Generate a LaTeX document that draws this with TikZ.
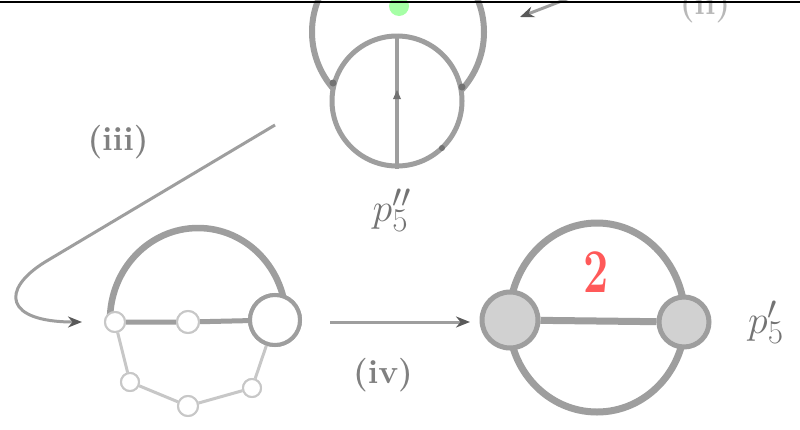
\documentclass[tikz,border=0pt]{standalone}
\usetikzlibrary{arrows.meta}
\begin{document}
\begin{tikzpicture}[x=1pt,y=-1pt,
  ln/.style={draw=black!38,line width=6.5pt},
  faint/.style={draw=black!22,line width=3pt},
  wnode/.style={circle,fill=white,draw=black!22,line width=2pt,inner sep=0pt},
  gnode/.style={circle,fill=black!18,draw=black!38,line width=5pt,inner sep=0pt},
  arr/.style={draw=black!38,line width=3pt,-{Stealth[length=14pt,width=11pt,black!65]}},
  lab/.style={text=black!50,font=\bfseries\Huge,scale=1.35},
  plab/.style={text=black!55,font=\Huge,scale=1.6}]
\useasboundingbox (0,0) rectangle (800,429);
\clip (0,0) rectangle (800,429);
\fill[white] (0,0) rectangle (800,429);
% top diagram
\node[circle,draw=black!38,line width=6pt,minimum size=172pt,inner sep=0pt] (to) at (398,32) {};
\node[circle,fill=white,draw=black!38,line width=5pt,minimum size=130pt,inner sep=0pt] (tc) at (397,101) {};
\draw[draw=black!38,line width=3.5pt] (tc.north) -- (tc.south);
\node[circle,fill=green!35!white,minimum size=20pt,inner sep=0pt] (gd) at (399,6) {};
\coordinate (m1) at (397,95);
\fill[black!55] (m1) ++(0,-5) -- ++(-4,9) -- ++(8,0) -- cycle;
\fill[black!55] (333,83) circle (3.5pt);
\fill[black!55] (462,87) circle (3.5pt);
\fill[black!55] (442,148) circle (3pt);
\node[plab] (p1) at (392,210) {$p_5^{\prime\prime}$};
% top-right arrow and cut label
\coordinate (tra) at (585,-8);
\coordinate (trb) at (520,17);
\draw[arr] (tra) -- (trb);
\node[lab,text=black!28] (l2) at (705,6) {(ii)};
% left label and curved arrow
\node[lab] (l3) at (118,142) {(iii)};
\coordinate (s3) at (275,125);
\draw[arr] (s3) -- (45,262) .. controls (0,290) and (5,322) .. (82,322);
% bottom-left diagram
\draw[ln] (110,320) arc[start angle=180,end angle=360,x radius=88,y radius=92];
\node[wnode,minimum size=20pt] (b1) at (115,322) {};
\node[wnode,minimum size=18pt] (b4) at (130,382) {};
\node[wnode,minimum size=20pt] (b5) at (188,406) {};
\node[wnode,minimum size=18pt] (b6) at (252,388) {};
\node[circle,fill=white,draw=black!38,line width=4pt,minimum size=50pt,inner sep=0pt] (b3) at (275,320) {};
\node[wnode,minimum size=22pt] (b2) at (188,322) {};
\draw[faint] (b1) -- (b4) -- (b5) -- (b6) -- (b3);
\draw[ln,line width=5pt] (b1) -- (b2) -- (b3);
\node[wnode,minimum size=20pt] at (115,322) {};
\node[wnode,minimum size=22pt] at (188,322) {};
\node[wnode,minimum size=18pt] at (130,382) {};
\node[wnode,minimum size=20pt] at (188,406) {};
\node[wnode,minimum size=18pt] at (252,388) {};
\node[circle,fill=white,draw=black!38,line width=4pt,minimum size=50pt,inner sep=0pt] at (275,320) {};
% middle arrow
\coordinate (a4s) at (330,322);
\coordinate (a4e) at (470,322);
\draw[arr] (a4s) -- (a4e);
\node[lab] (l4) at (383,375) {(iv)};
% bottom-right diagram
\draw[ln,line width=7pt] (509,320) arc[start angle=180,end angle=360,x radius=88,y radius=97];
\draw[ln,line width=7pt] (509,320) arc[start angle=180,end angle=0,x radius=88,y radius=92];
\node[gnode,minimum size=56pt] (c1) at (510,320) {};
\node[gnode,minimum size=50pt] (c2) at (684,322) {};
\draw[ln,line width=7pt] (c1) -- (c2);
\node[text=red!65,font=\bfseries\Huge,xscale=1.8,yscale=2.5] (two) at (596,272) {2};
\node[plab] (p2) at (766,322) {$p_5^{\prime}$};
% top border line
\draw[black,line width=2pt] (0,2) -- (800,2);
\end{tikzpicture}
\end{document}
